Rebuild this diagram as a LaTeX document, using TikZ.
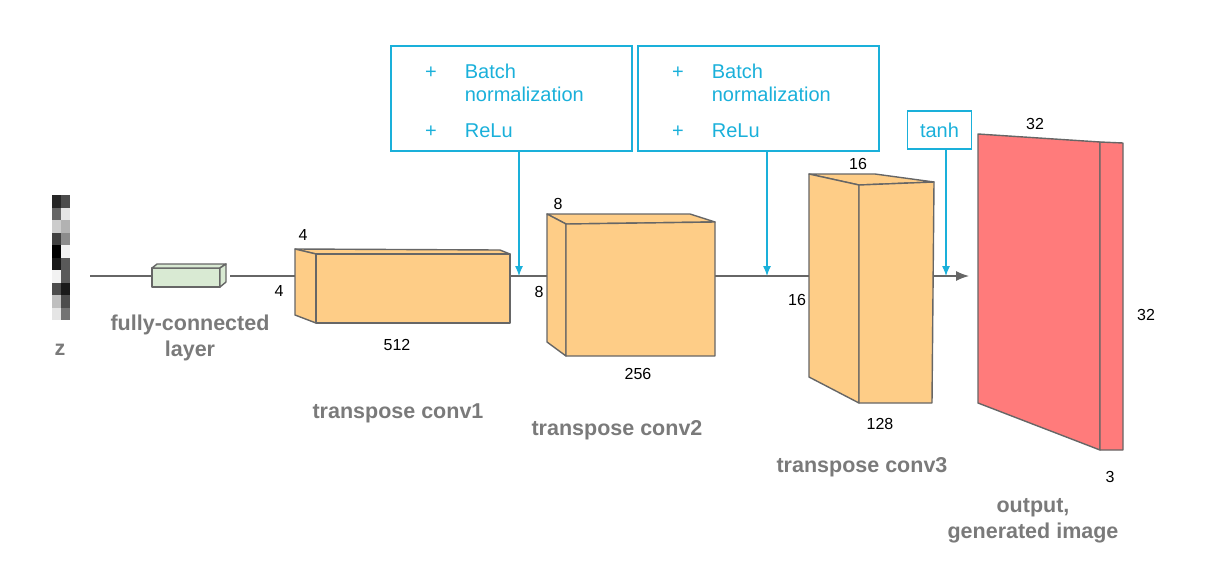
\documentclass[tikz,border=0pt]{standalone}
\usepackage{fontspec}
\setmainfont{Liberation Sans}
\usetikzlibrary{arrows.meta}
\definecolor{bnblue}{HTML}{1AB0DA}
\definecolor{edgegray}{HTML}{666666}
\definecolor{labelgray}{HTML}{7A7A7A}
\definecolor{fcgreen}{HTML}{D9EAD3}
\definecolor{convorange}{HTML}{FECD87}
\definecolor{outred}{HTML}{FF7B7B}
\newcommand{\bnlist}{\begin{tabular}{@{}l@{\hspace{28pt}}l@{\hspace{14pt}}}\rule{0pt}{26pt}+ & Batch\\ & normalization\\[13.7pt] + & ReLu\end{tabular}}

\begin{document}
\begin{tikzpicture}[x=1pt,y=-1pt]
                        \tikzstyle{face}=[draw=edgegray,line width=1.4pt,line join=round]
                        \tikzstyle{flow}=[draw=edgegray,line width=1.2pt]
                        \tikzstyle{bnbox}=[draw=bnblue,line width=1.2pt,text=bnblue,font=\fontsize{20}{23}\selectfont,inner sep=0pt]
                        \tikzstyle{bnarrow}=[draw=bnblue,line width=1.2pt,-{Latex[length=10pt,width=8pt]}]
                        \tikzstyle{title}=[text=labelgray,font=\bfseries\fontsize{21.5}{26}\selectfont,align=center]
                        \tikzstyle{dim}=[font=\fontsize{16}{18}\selectfont]
                        \useasboundingbox (0,0) rectangle (1211,582);
                        \foreach \r/\a/\b in {0/85/70,1/60/10,2/20/30,3/75/45,4/100/5,5/90/65,6/5/65,7/70/90,8/25/70,9/10/55}
                        {
                            \fill[black!\a] (52,195+\r*12.5) rectangle ++(9,12.5);
                            \fill[black!\b] (61,195+\r*12.5) rectangle ++(9,12.5);
                        }
                        \coordinate (zout) at (90,276);
                        \coordinate (fcin) at (152,276);
                        \coordinate (fcout) at (230,276);
                        \coordinate (c1in) at (295,276);
                        \coordinate (c1out) at (510,276);
                        \coordinate (c2in) at (547,276);
                        \coordinate (c2out) at (715,276);
                        \coordinate (c3in) at (809,276);
                        \coordinate (c3out) at (933,276);
                        \coordinate (outtip) at (969,276);
                        \coordinate (bn1tip) at (519,276);
                        \coordinate (bn2tip) at (767,276);
                        \coordinate (tanhtip) at (946,276);
                        \draw[flow] (zout) -- (fcin);
                        \draw[flow] (fcout) -- (c1in);
                        \draw[flow] (c1out) -- (c2in);
                        \draw[flow] (c2out) -- (c3in);
                        \draw[flow,-{Latex[length=13pt,width=10pt]}] (c3out) -- (outtip);
                        \filldraw[face,fill=fcgreen] (152,268) rectangle (220,287);
                        \filldraw[face,fill=fcgreen] (152,268) -- (157,264) -- (226,264) -- (220,268) -- cycle;
                        \filldraw[face,fill=fcgreen] (220,268) -- (226,264) -- (226,282) -- (220,287) -- cycle;
                        \filldraw[face,fill=convorange] (295,249) -- (500,250) -- (510,254) -- (316,254) -- cycle;
                        \filldraw[face,fill=convorange] (295,249) -- (316,254) -- (316,323) -- (295,315) -- cycle;
                        \filldraw[face,fill=convorange] (316,254) rectangle (510,323);
                        \filldraw[face,fill=convorange] (547,214) -- (690,214) -- (715,222) -- (566,224) -- cycle;
                        \filldraw[face,fill=convorange] (547,214) -- (566,224) -- (566,356) -- (547,342) -- cycle;
                        \filldraw[face,fill=convorange] (566,224) -- (715,222) -- (715,356) -- (566,356) -- cycle;
                        \filldraw[face,fill=convorange] (809,174) -- (875,174) -- (934,182) -- (859,185) -- cycle;
                        \filldraw[face,fill=convorange] (809,174) -- (859,185) -- (859,403) -- (809,377) -- cycle;
                        \filldraw[face,fill=convorange] (859,185) -- (934,182) -- (932,403) -- (859,403) -- cycle;
                        \filldraw[face,fill=outred] (978,134) -- (1100,142) -- (1100,450) -- (978,403) -- cycle;
                        \filldraw[face,fill=outred] (1100,142) -- (1123,143) -- (1123,450) -- (1100,450) -- cycle;
                        \node[bnbox,minimum width=241pt,minimum height=105pt] (bn1) at (511.5,98.5) {\bnlist};
                        \node[bnbox,minimum width=241pt,minimum height=105pt] (bn2) at (758.5,98.5) {\bnlist};
                        \node[bnbox,minimum width=64pt,minimum height=38pt] (tanh) at (939.5,130) {tanh};
                        \draw[bnarrow] (bn1tip |- bn1.south) -- (bn1tip);
                        \draw[bnarrow] (bn2tip |- bn2.south) -- (bn2tip);
                        \draw[bnarrow] (tanhtip |- tanh.south) -- (tanhtip);
                        \node[dim] (d1a) at (303,235) {4};
                        \node[dim] (d1b) at (279,291) {4};
                        \node[dim] (d1c) at (397,345) {512};
                        \node[dim] (d2a) at (558,204) {8};
                        \node[dim] (d2b) at (539,292) {8};
                        \node[dim] (d2c) at (638,374) {256};
                        \node[dim] (d3a) at (858,164) {16};
                        \node[dim] (d3b) at (797,300) {16};
                        \node[dim] (d3c) at (880,424) {128};
                        \node[dim] (d4a) at (1035,124) {32};
                        \node[dim] (d4b) at (1146,315) {32};
                        \node[dim] (d4c) at (1110,477) {3};
                        \node[title] (zlab) at (60,350) {z};
                        \node[title] (fclab) at (190,338) {fully-connected\\layer};
                        \node[title] (t1lab) at (398,413) {transpose conv1};
                        \node[title] (t2lab) at (617,430) {transpose conv2};
                        \node[title] (t3lab) at (862,467) {transpose conv3};
                        \node[title] (outlab) at (1033,521) {output,\\generated image};
\end{tikzpicture}
\end{document}
